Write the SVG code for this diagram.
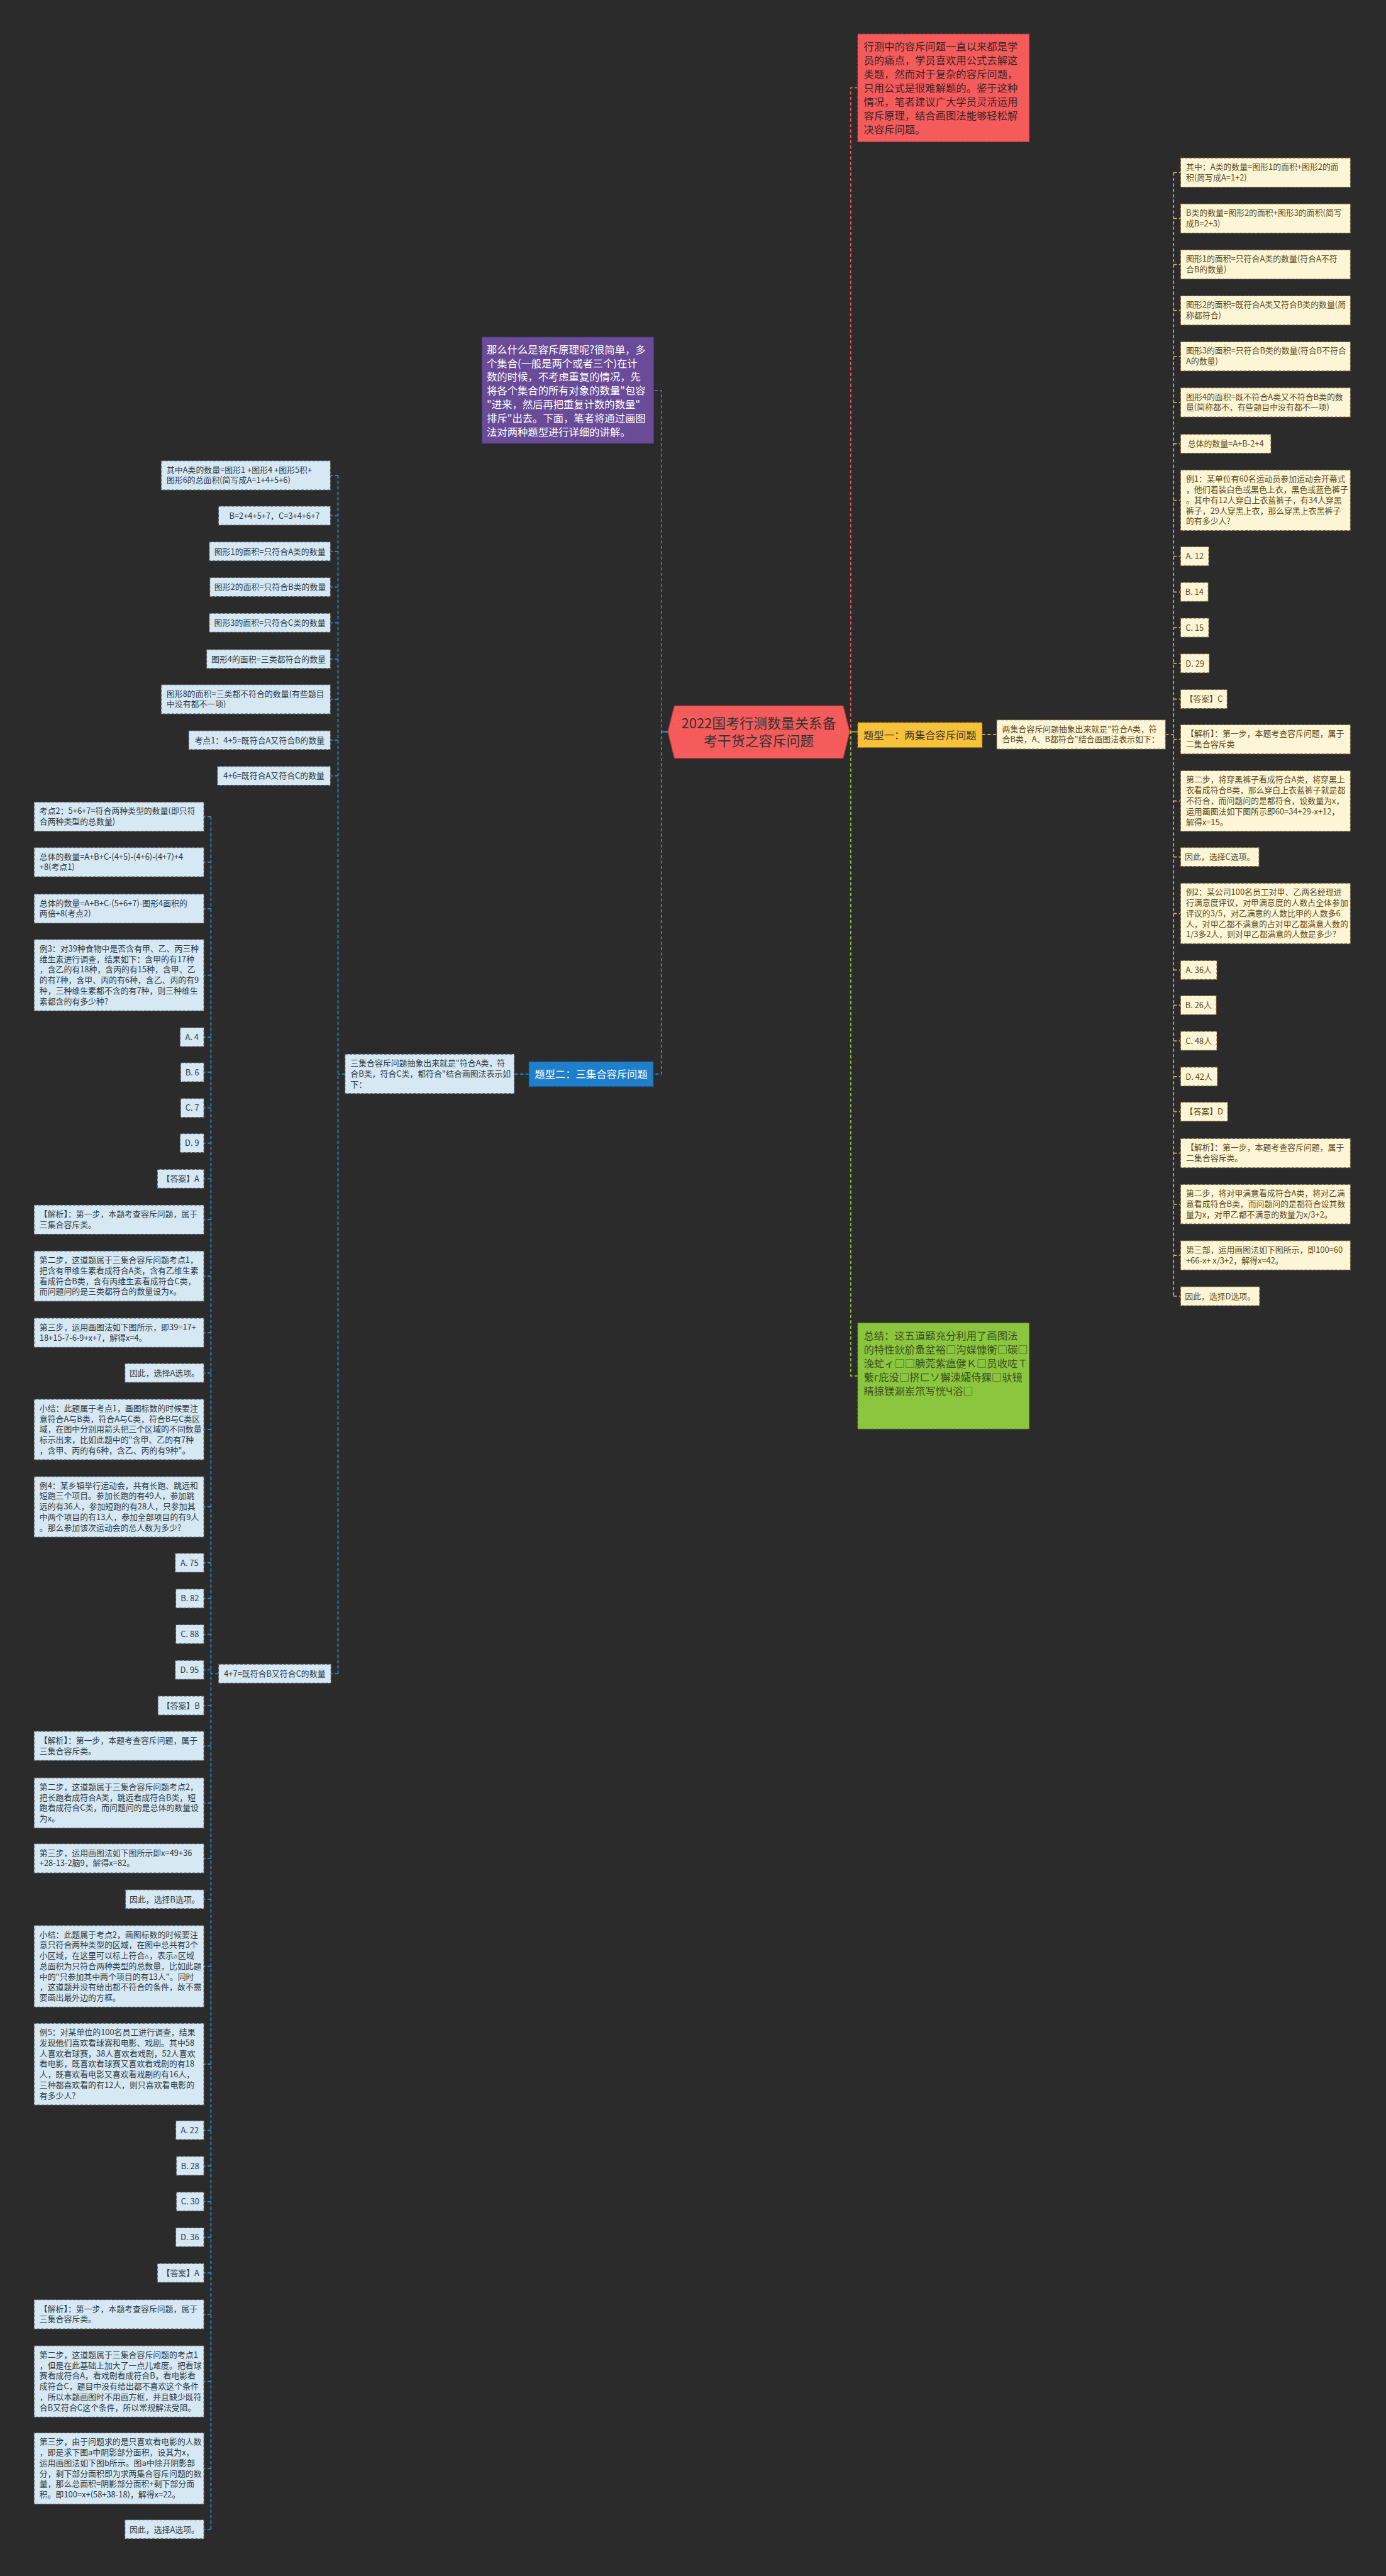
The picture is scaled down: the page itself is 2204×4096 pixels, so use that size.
<svg xmlns="http://www.w3.org/2000/svg" width="2204" height="4096" viewBox="0 0 2204 4096">
<style>
text{font-family:"Noto Sans CJK SC","Microsoft YaHei",sans-serif}
.yl{fill:#fdf6d6;stroke:#6e5f35;stroke-width:1.4;stroke-dasharray:5 3}
.bl{fill:#d5e8f4;stroke:#4d5257;stroke-width:1.4;stroke-dasharray:5 3}
.ty{font-size:15px;fill:#5a4a1c}
.tb{font-size:15px;fill:#2f3a42}
.m{text-anchor:middle}
.k{fill:none;stroke-width:2;stroke-dasharray:6 4}
.ky{stroke:#d8b052}.kb{stroke:#2b8fd8}.kp{stroke:#7b5cab}.kr{stroke:#f0595a}.kg{stroke:#8dc63f}
.big{font-size:19px}
</style>
<rect width="2204" height="4096" fill="#2b2b2b"/>
<g transform="scale(0.86)">
<g id="connectors">
<path class="k kr" d="M1571 1353H1573V162H1586"/>
<path class="k kg" d="M1571 1353H1573V2544H1586"/>
<path d="M1571 1353H1586" fill="none" stroke="#8dc63f" stroke-width="2"/>
<path class="k kp" d="M1235 1353H1223V722H1209"/>
<path class="k kb" d="M1235 1353H1223V1986H1208"/>
<path d="M1235 1353H1223" fill="none" stroke="#2b8fd8" stroke-width="2"/>
<path class="k ky" d="M1816 1358H1843M2155 1358H2170M2170 319V2396.5M2170 319H2183M2170 404H2183M2170 489H2183M2170 574H2183M2170 659H2183M2170 744H2183M2170 820.5H2183M2170 925H2183M2170 1028.5H2183M2170 1094.5H2183M2170 1160.5H2183M2170 1226.5H2183M2170 1292.5H2183M2170 1367H2183M2170 1481H2183M2170 1584.5H2183M2170 1689H2183M2170 1793.5H2183M2170 1858.5H2183M2170 1924.5H2183M2170 1990.5H2183M2170 2055.5H2183M2170 2132H2183M2170 2226.5H2183M2170 2321H2183M2170 2396.5H2183"/>
<path class="k kb" d="M978 1986H951M638 1986H625M625 879V3094.5M625 879H611M625 953.5H611M625 1019.5H611M625 1085.5H611M625 1151.5H611M625 1218.5H611M625 1293H611M625 1368.5H611M625 1434.5H611M625 3094.5H612"/>
<path class="k kb" d="M404 3094.5H390M390 1510V4676.5M390 1510H377M390 1594H377M390 1680H377M390 1803H377M390 1917.5H377M390 1982.5H377M390 2048.5H377M390 2113.5H377M390 2179.5H377M390 2255H377M390 2359.5H377M390 2464H377M390 2538.5H377M390 2643H377M390 2786H377M390 2889.5H377M390 2955.5H377M390 3021.5H377M390 3087.5H377M390 3153.5H377M390 3228H377M390 3333.5H377M390 3436H377M390 3511.5H377M390 3635.5H377M390 3816.5H377M390 3938.5H377M390 4004.5H377M390 4070.5H377M390 4136.5H377M390 4202.5H377M390 4279H377M390 4403H377M390 4564H377M390 4676.5H377"/>
</g>

<g id="n-center">
<polygon points="1247,1305 1559,1305 1571,1353 1559,1402 1247,1402 1235,1353" fill="#f55b5b" stroke="#b84242" stroke-width="1.5"/>
<text x="1403" y="1346" class="m" font-size="25.5" fill="#333"><tspan x="1403">2022国考行测数量关系备</tspan><tspan x="1403" dy="33">考干货之容斥问题</tspan></text>
</g>

<g id="n-red">
<rect x="1586" y="63" width="317" height="199" fill="#f55b5b" stroke="#c44545" stroke-width="1.5" stroke-dasharray="5 3"/>
<text x="1597" y="93" class="big" fill="#3a2424"><tspan x="1597">行测中的容斥问题一直以来都是学</tspan><tspan x="1597" dy="25.5">员的痛点，学员喜欢用公式去解这</tspan><tspan x="1597" dy="25.5">类题，然而对于复杂的容斥问题，</tspan><tspan x="1597" dy="25.5">只用公式是很难解题的。鉴于这种</tspan><tspan x="1597" dy="25.5">情况，笔者建议广大学员灵活运用</tspan><tspan x="1597" dy="25.5">容斥原理，结合画图法能够轻松解</tspan><tspan x="1597" dy="25.5">决容斥问题。</tspan></text>
</g>

<g id="n-purple">
<rect x="891" y="623" width="318" height="197" fill="#6a4b97" stroke="#45306a" stroke-width="1.5" stroke-dasharray="5 3"/>
<text x="900" y="653" class="big" fill="#ffffff"><tspan x="900">那么什么是容斥原理呢?很简单，多</tspan><tspan x="900" dy="25.5">个集合(一般是两个或者三个)在计</tspan><tspan x="900" dy="25.5">数的时候，不考虑重复的情况，先</tspan><tspan x="900" dy="25.5">将各个集合的所有对象的数量"包容</tspan><tspan x="900" dy="25.5">"进来，然后再把重复计数的数量"</tspan><tspan x="900" dy="25.5">排斥"出去。下面，笔者将通过画图</tspan><tspan x="900" dy="25.5">法对两种题型进行详细的讲解。</tspan></text>
</g>

<g id="n-green">
<rect x="1586" y="2446" width="317" height="196" fill="#8cc63f" stroke="#5a8a20" stroke-width="1.5" stroke-dasharray="5 3"/>
<text x="1597" y="2477" class="big" fill="#3a4f1e"><tspan x="1597">总结：这五道题充分利用了画图法</tspan><tspan x="1597" dy="25.5">的特性鈥斺惫坌裕□沟媒慷衡□碳□</tspan><tspan x="1597" dy="25.5">浼虻ィ□□腆莞紫瘟健Ｋ□员收咗Ｔ</tspan><tspan x="1597" dy="25.5">蘩г庇没□挤ㄈソ獬涑孀侍猓□驮镜</tspan><tspan x="1597" dy="25.5">睛掠镁涮岽笊写恍Ч浴□</tspan></text>
</g>

<g id="n-type1">
<rect x="1586" y="1336" width="230" height="46" fill="#f7c13a" stroke="#a07a10" stroke-width="1.5" stroke-dasharray="5 3"/>
<text x="1701" y="1366" class="m big" fill="#333">题型一：两集合容斥问题</text>
</g>
<g id="n-two">
<rect x="1843" y="1331" width="312" height="54" class="yl"/>
<text x="1853" y="1353" class="ty"><tspan x="1853">两集合容斥问题抽象出来就是"符合A类，符</tspan><tspan x="1853" dy="19.5">合B类，A、B都符合"结合画图法表示如下：</tspan></text>
</g>

<g id="n-type2">
<rect x="978" y="1963" width="230" height="46" fill="#1f7fcb" stroke="#0f5590" stroke-width="1.5" stroke-dasharray="5 3"/>
<text x="1093" y="1993" class="m big" fill="#ffffff">题型二：三集合容斥问题</text>
</g>
<g id="n-three">
<rect x="638" y="1949" width="313" height="73" class="bl"/>
<text x="648" y="1971" class="tb"><tspan x="648">三集合容斥问题抽象出来就是"符合A类，符</tspan><tspan x="648" dy="19.5">合B类，符合C类，都符合"结合画图法表示如</tspan><tspan x="648" dy="19.5">下：</tspan></text>
</g>

<g id="y1"><rect x="2183" y="292" width="314" height="54" class="yl"/><text x="2193" y="314" class="ty"><tspan x="2193">其中：A类的数量=图形1的面积+图形2的面</tspan><tspan x="2193" dy="19.5">积(简写成A=1+2)</tspan></text></g>
<g id="y2"><rect x="2183" y="377" width="314" height="54" class="yl"/><text x="2193" y="399" class="ty"><tspan x="2193">B类的数量=图形2的面积+图形3的面积(简写</tspan><tspan x="2193" dy="19.5">成B=2+3)</tspan></text></g>
<g id="y3"><rect x="2183" y="462" width="314" height="54" class="yl"/><text x="2193" y="484" class="ty"><tspan x="2193">图形1的面积=只符合A类的数量(符合A不符</tspan><tspan x="2193" dy="19.5">合B的数量)</tspan></text></g>
<g id="y4"><rect x="2183" y="547" width="314" height="54" class="yl"/><text x="2193" y="569" class="ty"><tspan x="2193">图形2的面积=既符合A类又符合B类的数量(简</tspan><tspan x="2193" dy="19.5">称都符合)</tspan></text></g>
<g id="y5"><rect x="2183" y="632" width="314" height="54" class="yl"/><text x="2193" y="654" class="ty"><tspan x="2193">图形3的面积=只符合B类的数量(符合B不符合</tspan><tspan x="2193" dy="19.5">A的数量)</tspan></text></g>
<g id="y6"><rect x="2183" y="717" width="314" height="54" class="yl"/><text x="2193" y="739" class="ty"><tspan x="2193">图形4的面积=既不符合A类又不符合B类的数</tspan><tspan x="2193" dy="19.5">量(简称都不，有些题目中没有都不一项)</tspan></text></g>
<g id="y7"><rect x="2183" y="803" width="167" height="35" class="yl"/><text x="2266.5" y="826" class="ty m">总体的数量=A+B-2+4</text></g>
<g id="y8"><rect x="2183" y="869" width="314" height="112" class="yl"/><text x="2193" y="891" class="ty"><tspan x="2193">例1：某单位有60名运动员参加运动会开幕式</tspan><tspan x="2193" dy="19.5">，他们着装白色或黑色上衣，黑色或蓝色裤子</tspan><tspan x="2193" dy="19.5">。其中有12人穿白上衣蓝裤子，有34人穿黑</tspan><tspan x="2193" dy="19.5">裤子，29人穿黑上衣，那么穿黑上衣黑裤子</tspan><tspan x="2193" dy="19.5">的有多少人?</tspan></text></g>
<g id="y9"><rect x="2183" y="1011" width="52" height="35" class="yl"/><text x="2209" y="1034" class="ty m">A. 12</text></g>
<g id="y10"><rect x="2183" y="1077" width="51" height="35" class="yl"/><text x="2208.5" y="1100" class="ty m">B. 14</text></g>
<g id="y11"><rect x="2183" y="1143" width="52" height="35" class="yl"/><text x="2209" y="1166" class="ty m">C. 15</text></g>
<g id="y12"><rect x="2183" y="1209" width="53" height="35" class="yl"/><text x="2209.5" y="1232" class="ty m">D. 29</text></g>
<g id="y13"><rect x="2183" y="1275" width="86" height="35" class="yl"/><text x="2226" y="1298" class="ty m">【答案】C</text></g>
<g id="y14"><rect x="2183" y="1340" width="314" height="54" class="yl"/><text x="2193" y="1362" class="ty"><tspan x="2193">【解析】：第一步，本题考查容斥问题，属于</tspan><tspan x="2193" dy="19.5">二集合容斥类</tspan></text></g>
<g id="y15"><rect x="2183" y="1425" width="314" height="112" class="yl"/><text x="2193" y="1447" class="ty"><tspan x="2193">第二步，将穿黑裤子看成符合A类，将穿黑上</tspan><tspan x="2193" dy="19.5">衣看成符合B类，那么穿白上衣蓝裤子就是都</tspan><tspan x="2193" dy="19.5">不符合，而问题问的是都符合，设数量为x，</tspan><tspan x="2193" dy="19.5">运用画图法如下图所示即60=34+29-x+12，</tspan><tspan x="2193" dy="19.5">解得x=15。</tspan></text></g>
<g id="y16"><rect x="2183" y="1567" width="145" height="35" class="yl"/><text x="2255.5" y="1590" class="ty m">因此，选择C选项。</text></g>
<g id="y17"><rect x="2183" y="1633" width="314" height="112" class="yl"/><text x="2193" y="1655" class="ty"><tspan x="2193">例2：某公司100名员工对甲、乙两名经理进</tspan><tspan x="2193" dy="19.5">行满意度评议，对甲满意度的人数占全体参加</tspan><tspan x="2193" dy="19.5">评议的3/5，对乙满意的人数比甲的人数多6</tspan><tspan x="2193" dy="19.5">人，对甲乙都不满意的占对甲乙都满意人数的</tspan><tspan x="2193" dy="19.5">1/3多2人，则对甲乙都满意的人数是多少?</tspan></text></g>
<g id="y18"><rect x="2183" y="1776" width="67" height="35" class="yl"/><text x="2216.5" y="1799" class="ty m">A. 36人</text></g>
<g id="y19"><rect x="2183" y="1841" width="66" height="35" class="yl"/><text x="2216" y="1864" class="ty m">B. 26人</text></g>
<g id="y20"><rect x="2183" y="1907" width="67" height="35" class="yl"/><text x="2216.5" y="1930" class="ty m">C. 48人</text></g>
<g id="y21"><rect x="2183" y="1973" width="68" height="35" class="yl"/><text x="2217" y="1996" class="ty m">D. 42人</text></g>
<g id="y22"><rect x="2183" y="2038" width="87" height="35" class="yl"/><text x="2226.5" y="2061" class="ty m">【答案】D</text></g>
<g id="y23"><rect x="2183" y="2105" width="314" height="54" class="yl"/><text x="2193" y="2127" class="ty"><tspan x="2193">【解析】：第一步，本题考查容斥问题，属于</tspan><tspan x="2193" dy="19.5">二集合容斥类。</tspan></text></g>
<g id="y24"><rect x="2183" y="2190" width="314" height="73" class="yl"/><text x="2193" y="2212" class="ty"><tspan x="2193">第二步，将对甲满意看成符合A类，将对乙满</tspan><tspan x="2193" dy="19.5">意看成符合B类，而问题问的是都符合设其数</tspan><tspan x="2193" dy="19.5">量为x，对甲乙都不满意的数量为x/3+2。</tspan></text></g>
<g id="y25"><rect x="2183" y="2294" width="314" height="54" class="yl"/><text x="2193" y="2316" class="ty"><tspan x="2193">第三部，运用画图法如下图所示，即100=60</tspan><tspan x="2193" dy="19.5">+66-x+ x/3+2，解得x=42。</tspan></text></g>
<g id="y26"><rect x="2183" y="2379" width="146" height="35" class="yl"/><text x="2256" y="2402" class="ty m">因此，选择D选项。</text></g>

<g id="b1"><rect x="298" y="852" width="313" height="54" class="bl"/><text x="308" y="874" class="tb"><tspan x="308">其中A类的数量=图形1 +图形4 +图形5积+</tspan><tspan x="308" dy="19.5">图形6的总面积(简写成A=1+4+5+6)</tspan></text></g>
<g id="b2"><rect x="404" y="936" width="207" height="35" class="bl"/><text x="507.5" y="959" class="tb m">B=2+4+5+7，C=3+4+6+7</text></g>
<g id="b3"><rect x="387" y="1002" width="224" height="35" class="bl"/><text x="499" y="1025" class="tb m">图形1的面积=只符合A类的数量</text></g>
<g id="b4"><rect x="388" y="1068" width="223" height="35" class="bl"/><text x="499.5" y="1091" class="tb m">图形2的面积=只符合B类的数量</text></g>
<g id="b5"><rect x="387" y="1134" width="224" height="35" class="bl"/><text x="499" y="1157" class="tb m">图形3的面积=只符合C类的数量</text></g>
<g id="b6"><rect x="382" y="1201" width="229" height="35" class="bl"/><text x="496.5" y="1224" class="tb m">图形4的面积=三类都符合的数量</text></g>
<g id="b7"><rect x="298" y="1266" width="313" height="54" class="bl"/><text x="308" y="1288" class="tb"><tspan x="308">图形8的面积=三类都不符合的数量(有些题目</tspan><tspan x="308" dy="19.5">中没有都不一项)</tspan></text></g>
<g id="b8"><rect x="349" y="1351" width="262" height="35" class="bl"/><text x="480" y="1374" class="tb m">考点1：4+5=既符合A又符合B的数量</text></g>
<g id="b9"><rect x="402" y="1417" width="209" height="35" class="bl"/><text x="506.5" y="1440" class="tb m">4+6=既符合A又符合C的数量</text></g>
<g id="b10"><rect x="404" y="3077" width="208" height="35" class="bl"/><text x="508" y="3100" class="tb m">4+7=既符合B又符合C的数量</text></g>

<g id="l1"><rect x="63" y="1483" width="314" height="54" class="bl"/><text x="73" y="1505" class="tb"><tspan x="73">考点2：5+6+7=符合两种类型的数量(即只符</tspan><tspan x="73" dy="19.5">合两种类型的总数量)</tspan></text></g>
<g id="l2"><rect x="63" y="1567" width="314" height="54" class="bl"/><text x="73" y="1589" class="tb"><tspan x="73">总体的数量=A+B+C-(4+5)-(4+6)-(4+7)+4</tspan><tspan x="73" dy="19.5">+8(考点1)</tspan></text></g>
<g id="l3"><rect x="63" y="1653" width="314" height="54" class="bl"/><text x="73" y="1675" class="tb"><tspan x="73">总体的数量=A+B+C-(5+6+7)-图形4面积的</tspan><tspan x="73" dy="19.5">两倍+8(考点2)</tspan></text></g>
<g id="l4"><rect x="63" y="1737" width="314" height="132" class="bl"/><text x="73" y="1759" class="tb"><tspan x="73">例3：对39种食物中是否含有甲、乙、丙三种</tspan><tspan x="73" dy="19.5">维生素进行调查，结果如下：含甲的有17种</tspan><tspan x="73" dy="19.5">，含乙的有18种，含丙的有15种，含甲、乙</tspan><tspan x="73" dy="19.5">的有7种，含甲、丙的有6种，含乙、丙的有9</tspan><tspan x="73" dy="19.5">种，三种维生素都不含的有7种，则三种维生</tspan><tspan x="73" dy="19.5">素都含的有多少种?</tspan></text></g>
<g id="l5"><rect x="333" y="1900" width="44" height="35" class="bl"/><text x="355" y="1923" class="tb m">A. 4</text></g>
<g id="l6"><rect x="334" y="1965" width="43" height="35" class="bl"/><text x="355.5" y="1988" class="tb m">B. 6</text></g>
<g id="l7"><rect x="334" y="2031" width="43" height="35" class="bl"/><text x="355.5" y="2054" class="tb m">C. 7</text></g>
<g id="l8"><rect x="333" y="2096" width="44" height="35" class="bl"/><text x="355" y="2119" class="tb m">D. 9</text></g>
<g id="l9"><rect x="291" y="2162" width="86" height="35" class="bl"/><text x="334" y="2185" class="tb m">【答案】A</text></g>
<g id="l10"><rect x="63" y="2228" width="314" height="54" class="bl"/><text x="73" y="2250" class="tb"><tspan x="73">【解析】：第一步，本题考查容斥问题，属于</tspan><tspan x="73" dy="19.5">三集合容斥类。</tspan></text></g>
<g id="l11"><rect x="63" y="2313" width="314" height="93" class="bl"/><text x="73" y="2335" class="tb"><tspan x="73">第二步，这道题属于三集合容斥问题考点1，</tspan><tspan x="73" dy="19.5">把含有甲维生素看成符合A类，含有乙维生素</tspan><tspan x="73" dy="19.5">看成符合B类，含有丙维生素看成符合C类，</tspan><tspan x="73" dy="19.5">而问题问的是三类都符合的数量设为x。</tspan></text></g>
<g id="l12"><rect x="63" y="2437" width="314" height="54" class="bl"/><text x="73" y="2459" class="tb"><tspan x="73">第三步，运用画图法如下图所示，即39=17+</tspan><tspan x="73" dy="19.5">18+15-7-6-9+x+7，解得x=4。</tspan></text></g>
<g id="l13"><rect x="231" y="2521" width="146" height="35" class="bl"/><text x="304" y="2544" class="tb m">因此，选择A选项。</text></g>
<g id="l14"><rect x="63" y="2587" width="314" height="112" class="bl"/><text x="73" y="2609" class="tb"><tspan x="73">小结：此题属于考点1，画图标数的时候要注</tspan><tspan x="73" dy="19.5">意符合A与B类，符合A与C类，符合B与C类区</tspan><tspan x="73" dy="19.5">域，在图中分别用箭头把三个区域的不同数量</tspan><tspan x="73" dy="19.5">标示出来，比如此题中的"含甲、乙的有7种</tspan><tspan x="73" dy="19.5">，含甲、丙的有6种，含乙、丙的有9种"。</tspan></text></g>
<g id="l15"><rect x="63" y="2730" width="314" height="112" class="bl"/><text x="73" y="2752" class="tb"><tspan x="73">例4：某乡镇举行运动会，共有长跑、跳远和</tspan><tspan x="73" dy="19.5">短跑三个项目。参加长跑的有49人，参加跳</tspan><tspan x="73" dy="19.5">远的有36人，参加短跑的有28人，只参加其</tspan><tspan x="73" dy="19.5">中两个项目的有13人，参加全部项目的有9人</tspan><tspan x="73" dy="19.5">。那么参加该次运动会的总人数为多少?</tspan></text></g>
<g id="l16"><rect x="324" y="2872" width="53" height="35" class="bl"/><text x="350.5" y="2895" class="tb m">A. 75</text></g>
<g id="l17"><rect x="325" y="2938" width="52" height="35" class="bl"/><text x="351" y="2961" class="tb m">B. 82</text></g>
<g id="l18"><rect x="325" y="3004" width="52" height="35" class="bl"/><text x="351" y="3027" class="tb m">C. 88</text></g>
<g id="l19"><rect x="324" y="3070" width="53" height="35" class="bl"/><text x="350.5" y="3093" class="tb m">D. 95</text></g>
<g id="l20"><rect x="292" y="3136" width="85" height="35" class="bl"/><text x="334.5" y="3159" class="tb m">【答案】B</text></g>
<g id="l21"><rect x="63" y="3201" width="314" height="54" class="bl"/><text x="73" y="3223" class="tb"><tspan x="73">【解析】：第一步，本题考查容斥问题，属于</tspan><tspan x="73" dy="19.5">三集合容斥类。</tspan></text></g>
<g id="l22"><rect x="63" y="3287" width="314" height="93" class="bl"/><text x="73" y="3309" class="tb"><tspan x="73">第二步，这道题属于三集合容斥问题考点2，</tspan><tspan x="73" dy="19.5">把长跑看成符合A类，跳远看成符合B类，短</tspan><tspan x="73" dy="19.5">跑看成符合C类，而问题问的是总体的数量设</tspan><tspan x="73" dy="19.5">为x。</tspan></text></g>
<g id="l23"><rect x="63" y="3409" width="314" height="54" class="bl"/><text x="73" y="3431" class="tb"><tspan x="73">第三步，运用画图法如下图所示即x=49+36</tspan><tspan x="73" dy="19.5">+28-13-2脑9，解得x=82。</tspan></text></g>
<g id="l24"><rect x="232" y="3494" width="145" height="35" class="bl"/><text x="304.5" y="3517" class="tb m">因此，选择B选项。</text></g>
<g id="l25"><rect x="63" y="3560" width="314" height="151" class="bl"/><text x="73" y="3582" class="tb"><tspan x="73">小结：此题属于考点2，画图标数的时候要注</tspan><tspan x="73" dy="19.5">意只符合两种类型的区域，在图中总共有3个</tspan><tspan x="73" dy="19.5">小区域，在这里可以标上符合▵，表示▵区域</tspan><tspan x="73" dy="19.5">总面积为只符合两种类型的总数量，比如此题</tspan><tspan x="73" dy="19.5">中的"只参加其中两个项目的有13人"。同时</tspan><tspan x="73" dy="19.5">，这道题并没有给出都不符合的条件，故不需</tspan><tspan x="73" dy="19.5">要画出最外边的方框。</tspan></text></g>
<g id="l26"><rect x="63" y="3741" width="314" height="151" class="bl"/><text x="73" y="3763" class="tb"><tspan x="73">例5：对某单位的100名员工进行调查，结果</tspan><tspan x="73" dy="19.5">发现他们喜欢看球赛和电影、戏剧。其中58</tspan><tspan x="73" dy="19.5">人喜欢看球赛，38人喜欢看戏剧，52人喜欢</tspan><tspan x="73" dy="19.5">看电影，既喜欢看球赛又喜欢看戏剧的有18</tspan><tspan x="73" dy="19.5">人，既喜欢看电影又喜欢看戏剧的有16人，</tspan><tspan x="73" dy="19.5">三种都喜欢看的有12人，则只喜欢看电影的</tspan><tspan x="73" dy="19.5">有多少人?</tspan></text></g>
<g id="l27"><rect x="325" y="3921" width="52" height="35" class="bl"/><text x="351" y="3944" class="tb m">A. 22</text></g>
<g id="l28"><rect x="326" y="3987" width="51" height="35" class="bl"/><text x="351.5" y="4010" class="tb m">B. 28</text></g>
<g id="l29"><rect x="326" y="4053" width="51" height="35" class="bl"/><text x="351.5" y="4076" class="tb m">C. 30</text></g>
<g id="l30"><rect x="325" y="4119" width="52" height="35" class="bl"/><text x="351" y="4142" class="tb m">D. 36</text></g>
<g id="l31"><rect x="291" y="4185" width="86" height="35" class="bl"/><text x="334" y="4208" class="tb m">【答案】A</text></g>
<g id="l32"><rect x="63" y="4252" width="314" height="54" class="bl"/><text x="73" y="4274" class="tb"><tspan x="73">【解析】：第一步，本题考查容斥问题，属于</tspan><tspan x="73" dy="19.5">三集合容斥类。</tspan></text></g>
<g id="l33"><rect x="63" y="4337" width="314" height="132" class="bl"/><text x="73" y="4359" class="tb"><tspan x="73">第二步，这道题属于三集合容斥问题的考点1</tspan><tspan x="73" dy="19.5">，但是在此基础上加大了一点儿难度。把看球</tspan><tspan x="73" dy="19.5">赛看成符合A，看戏剧看成符合B，看电影看</tspan><tspan x="73" dy="19.5">成符合C，题目中没有给出都不喜欢这个条件</tspan><tspan x="73" dy="19.5">，所以本题画图时不用画方框，并且缺少既符</tspan><tspan x="73" dy="19.5">合B又符合C这个条件，所以常规解法受阻。</tspan></text></g>
<g id="l34"><rect x="63" y="4498" width="314" height="132" class="bl"/><text x="73" y="4520" class="tb"><tspan x="73">第三步，由于问题求的是只喜欢看电影的人数</tspan><tspan x="73" dy="19.5">，即是求下图a中阴影部分面积，设其为x，</tspan><tspan x="73" dy="19.5">运用画图法如下图b所示。图a中除开阴影部</tspan><tspan x="73" dy="19.5">分，剩下部分面积即为求两集合容斥问题的数</tspan><tspan x="73" dy="19.5">量，那么总面积=阴影部分面积+剩下部分面</tspan><tspan x="73" dy="19.5">积。即100=x+(58+38-18)，解得x=22。</tspan></text></g>
<g id="l35"><rect x="231" y="4659" width="146" height="35" class="bl"/><text x="304" y="4682" class="tb m">因此，选择A选项。</text></g>
</g>
</svg>
